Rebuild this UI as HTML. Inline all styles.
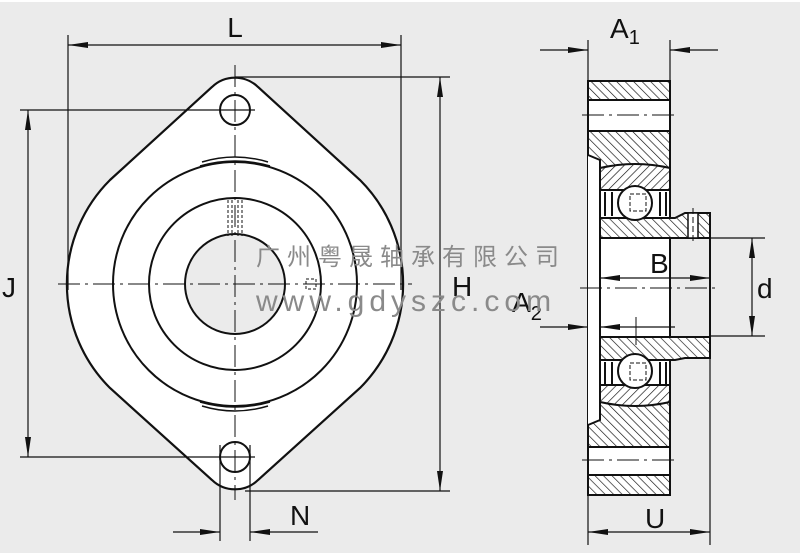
<!DOCTYPE html>
<html><head><meta charset="utf-8"><style>
html,body{margin:0;padding:0;background:#fff}
svg{display:block}
text{font-family:"Liberation Sans","DejaVu Sans",sans-serif;fill:#111}
</style></head><body>
<svg width="800" height="555" viewBox="0 0 800 555" xmlns="http://www.w3.org/2000/svg">
<defs>
<pattern id="h1" width="6" height="6" patternUnits="userSpaceOnUse" patternTransform="rotate(45)">
<rect width="6" height="6" fill="#fff"/><line x1="0" y1="0" x2="0" y2="6" stroke="#111" stroke-width="1.3"/></pattern>
<pattern id="h2" width="6" height="6" patternUnits="userSpaceOnUse" patternTransform="rotate(-45)">
<rect width="6" height="6" fill="#fff"/><line x1="0" y1="0" x2="0" y2="6" stroke="#111" stroke-width="1.3"/></pattern>
<marker id="ar" viewBox="0 0 20 8" refX="20" refY="4" markerWidth="20" markerHeight="8" markerUnits="userSpaceOnUse" orient="auto"><path d="M0,1 L20,4 L0,7 Z" fill="#111"/></marker>
</defs>
<rect x="0" y="2" width="800" height="551" fill="#ebebeb"/>
<g stroke="#111" fill="none" stroke-width="1.2">
<!-- front view -->
<path d="M110,180 L212,87 A33,33 0 0 1 258,87 L360,180 A147,147 0 0 1 360,388 L258,480 A33,33 0 0 1 212,480 L110,388 A147,147 0 0 1 110,180 Z" fill="#fff" stroke-width="2.2"/>
<circle cx="235" cy="284" r="122" stroke-width="2"/>
<circle cx="235" cy="284" r="86" stroke-width="2"/>
<circle cx="235" cy="284" r="50" fill="#ebebeb" stroke-width="2"/>
<circle cx="235" cy="110" r="15" stroke-width="2"/>
<circle cx="235" cy="457" r="15" stroke-width="2"/>
<path d="M200,166 Q235,156 270,166 M202,162 Q235,152 268,162" stroke-width="1.5"/>
<path d="M200,402 Q235,412 270,402 M202,406 Q235,416 268,406" stroke-width="1.5"/>
<path d="M228,200 V236 M232,200 V236 M238,200 V236 M242,200 V236" stroke-dasharray="3,2" stroke-width="1"/>
<rect x="306" y="279" width="10" height="10" stroke-dasharray="3,2" stroke-width="1"/>
<path d="M58,284 H412 M235,65 V500" stroke-dasharray="22,5,3,5" stroke-width="1"/>
<!-- dimension lines front -->
<path d="M68,35 V290 M401,35 V290"/>
<path d="M235,45 H68" marker-end="url(#ar)"/><path d="M235,45 H401" marker-end="url(#ar)"/>
<path d="M20,110 H255 M20,457 H255"/>
<path d="M28,284 V110" marker-end="url(#ar)"/><path d="M28,284 V457" marker-end="url(#ar)"/>
<path d="M235,77 H450 M245,491 H450"/>
<path d="M440,284 V77" marker-end="url(#ar)"/><path d="M440,284 V491" marker-end="url(#ar)"/>
<path d="M220,445 V541 M250,445 V541"/>
<path d="M173,532 H220" marker-end="url(#ar)"/><path d="M318,532 H250" marker-end="url(#ar)"/>
<!-- side view -->
<rect x="588" y="81" width="82" height="19" fill="url(#h2)" stroke-width="2"/>
<rect x="588" y="100" width="82" height="31" fill="#fff" stroke-width="2"/>
<rect x="588" y="131" width="82" height="37" fill="url(#h2)" stroke-width="2"/>
<rect x="588" y="400" width="82" height="47" fill="url(#h2)" stroke-width="2"/>
<rect x="588" y="447" width="82" height="28" fill="#fff" stroke-width="2"/>
<rect x="588" y="475" width="82" height="20" fill="url(#h2)" stroke-width="2"/>
<rect x="588" y="168" width="82" height="232" fill="#fff" stroke-width="2"/>
<path d="M588,155 L600,160 V420 L588,425" fill="#fff" stroke-width="2"/>
<path d="M600,168 Q635,160 670,168 V190 H600 Z" fill="url(#h1)" stroke-width="2"/>
<path d="M600,218 H675 L685,213 H710 V238 H600 Z" fill="url(#h2)" stroke-width="2"/>
<rect x="688" y="213" width="10" height="25" fill="#fff" stroke-width="1.5"/>
<path d="M600,337 H710 V358 H685 L675,360 H600 Z" fill="url(#h2)" stroke-width="2"/>
<path d="M600,385 H670 V402 Q635,410 600,402 Z" fill="url(#h1)" stroke-width="2"/>
<path d="M605,192 V216 M612,192 V216 M660,192 V216 M666,192 V216 M605,362 V384 M612,362 V384 M660,362 V384 M666,362 V384" stroke-width="2"/>
<circle cx="635" cy="203" r="17" fill="#fff" stroke-width="2"/>
<circle cx="635" cy="371" r="17" fill="#fff" stroke-width="2"/>
<rect x="630" y="194" width="16" height="17" stroke-dasharray="4,2" stroke-width="1"/>
<rect x="630" y="363" width="16" height="17" stroke-dasharray="4,2" stroke-width="1"/>
<path d="M600,238 V337 M710,238 V337" stroke-width="2"/>
<path d="M580,288 H718 M582,115 H676 M582,460 H676" stroke-dasharray="22,5,3,5" stroke-width="1"/>
<path d="M693,208 V243" stroke-dasharray="6,3" stroke-width="1"/>
<!-- side dims -->
<path d="M588,40 V81 M670,40 V81 M588,495 V545 M710,338 V545"/>
<path d="M540,50 H588" marker-end="url(#ar)"/><path d="M718,50 H670" marker-end="url(#ar)"/>
<path d="M650,532 H588" marker-end="url(#ar)"/><path d="M650,532 H710" marker-end="url(#ar)"/>
<path d="M710,238 H765 M710,336 H765"/>
<path d="M752,288 V238" marker-end="url(#ar)"/><path d="M752,288 V336" marker-end="url(#ar)"/>
<path d="M655,278 H600" marker-end="url(#ar)"/><path d="M655,278 H710" marker-end="url(#ar)"/>
<path d="M540,327 H588" marker-end="url(#ar)"/><path d="M675,327 H600" marker-end="url(#ar)"/>
<path d="M636,317 V345" stroke-width="1"/>
</g>
<g font-size="28">
<text x="235" y="37" text-anchor="middle">L</text>
<text x="2" y="297">J</text>
<text x="452" y="296">H</text>
<text x="290" y="525">N</text>
<text x="610" y="38">A<tspan font-size="20" dy="6">1</tspan></text>
<text x="645" y="528">U</text>
<text x="757" y="298">d</text>
<text x="650" y="273">B</text>
<text x="512" y="312">A<tspan font-size="20" dy="8">2</tspan></text>
</g>
<g>
<text x="256" y="265" font-size="24" style="fill:#8a8a8a;font-family:'Noto Sans CJK SC',sans-serif;letter-spacing:7px">广州粤晟轴承有限公司</text>
<text x="256" y="311" font-size="30" style="fill:#8a8a8a;letter-spacing:5px">www.gdyszc.com</text>
</g>
</svg>
</body></html>
